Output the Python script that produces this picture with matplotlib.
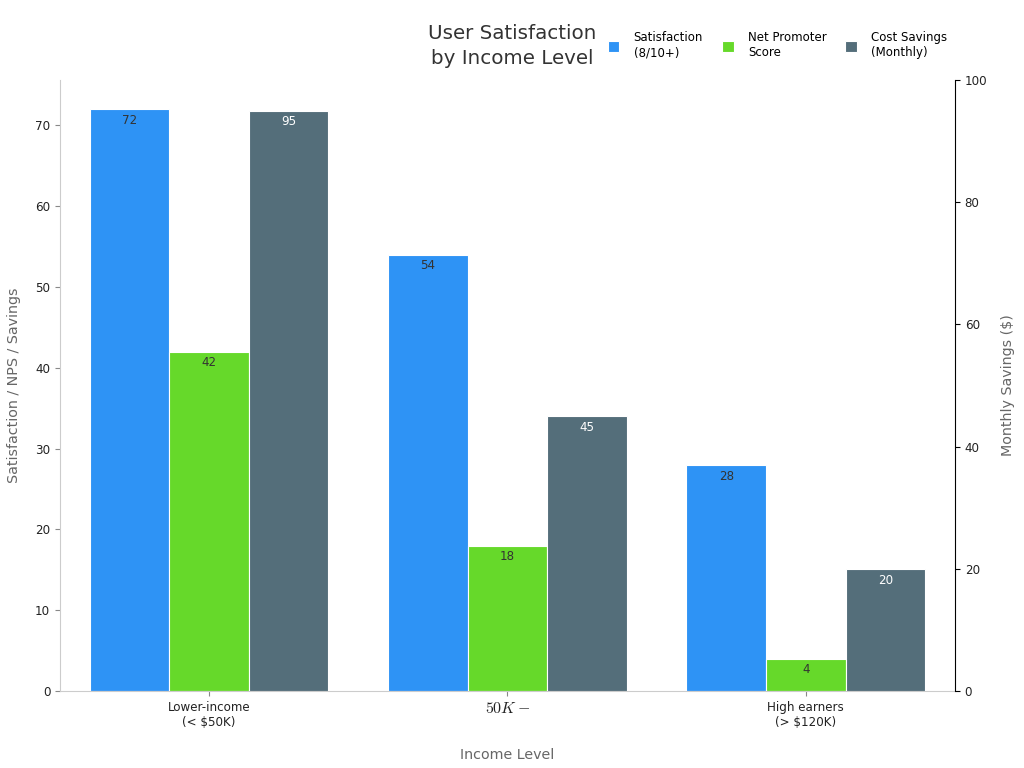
import numpy as np
import matplotlib
matplotlib.use('Agg')
import matplotlib.pyplot as plt

plt.rcParams['mathtext.fontset'] = 'cm'

# data
groups = ['Lower-income\n(< $50K)', r'$50K-$', 'High earners\n(> $120K)']
satisfaction = [72, 54, 28]
nps = [42, 18, 4]
savings = [95, 45, 20]

blue = '#2E93F5'
green = '#66D92A'
gray = '#546E7A'

fig = plt.figure(figsize=(10.24, 7.68), dpi=100)
ax = fig.add_axes([0.0586, 0.1003, 0.8740, 0.7955])
ax2 = ax.twinx()

x = np.arange(len(groups))
w = 0.8 / 3

b1 = ax.bar(x - w, satisfaction, w, color=blue, edgecolor='white', linewidth=0.8,
            label='Satisfaction\n(8/10+)')
b2 = ax.bar(x, nps, w, color=green, edgecolor='white', linewidth=0.8,
            label='Net Promoter\nScore')
b3 = ax2.bar(x + w, savings, w, color=gray, edgecolor='white', linewidth=0.8,
             label='Cost Savings\n(Monthly)')

ax.set_xlim(-0.5, 2.5)
ax.set_ylim(0, 75.6)
ax2.set_ylim(0, 100)

for rect, v in zip(b1, satisfaction):
    ax.text(rect.get_x() + rect.get_width() / 2, v - 0.6, str(v), ha='center', va='top',
            fontsize=8.6, color='#333333')
for rect, v in zip(b2, nps):
    ax.text(rect.get_x() + rect.get_width() / 2, v - 0.6, str(v), ha='center', va='top',
            fontsize=8.6, color='#333333')
for rect, v in zip(b3, savings):
    ax2.text(rect.get_x() + rect.get_width() / 2, v - 0.8, str(v), ha='center', va='top',
             fontsize=8.6, color='white')

ax.set_xticks(x)
ax.set_xticklabels(groups, fontsize=8.6, color='#222222')
ax.get_xticklabels()[1].set_fontsize(11.5)
ax.tick_params(axis='y', labelsize=8.6, color='#888888', labelcolor='#222222')
ax.tick_params(axis='x', color='#888888')
ax2.tick_params(axis='y', labelsize=8.6, labelcolor='#222222')
ax.set_xlabel('Income Level', fontsize=10.3, color='#666666', labelpad=14)
ax.set_ylabel('Satisfaction / NPS / Savings', fontsize=10.3, color='#666666', labelpad=10)
ax2.set_ylabel('Monthly Savings ($)', fontsize=10.3, color='#666666', labelpad=10)

for a in (ax, ax2):
    a.spines['top'].set_visible(False)
ax.spines['right'].set_visible(False)
ax.spines['left'].set_color('#cccccc')
ax.spines['bottom'].set_color('#cccccc')
ax2.spines['left'].set_visible(False)
ax2.spines['bottom'].set_visible(False)
ax2.spines['right'].set_color('black')

fig.text(0.5, 0.94, 'User Satisfaction\nby Income Level', ha='center', va='center',
         fontsize=14.3, color='#333333', linespacing=1.35)

fig.legend(handles=[b1, b2, b3], loc='center left', bbox_to_anchor=(0.583, 0.941),
           ncol=3, frameon=False, fontsize=8.5, handlelength=1.0, handleheight=1.0,
           columnspacing=1.6, handletextpad=1.2)

fig.savefig('out.png', dpi=100)
